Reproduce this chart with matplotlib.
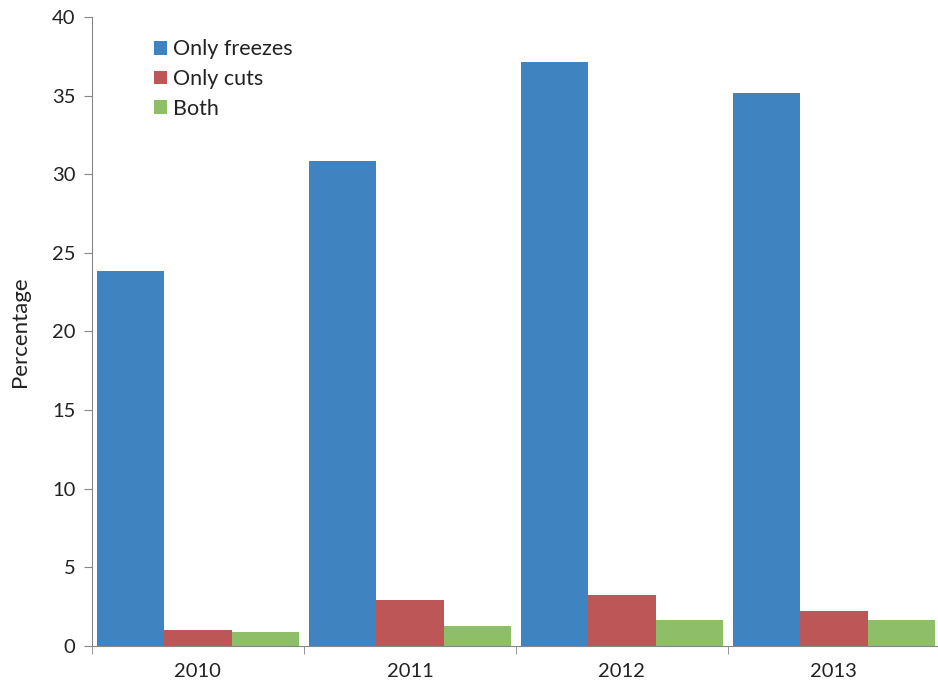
import matplotlib
matplotlib.use("Agg")
import matplotlib.pyplot as plt
import numpy as np

plt.rcParams['font.family'] = ['Lato', 'DejaVu Sans']

years = ['2010', '2011', '2012', '2013']
only_freezes = [23.85, 30.85, 37.15, 35.15]
only_cuts = [1.0, 2.9, 3.25, 2.25]
both = [0.9, 1.25, 1.65, 1.65]
series_names = ['Only freezes', 'Only cuts', 'Both']
colors = ['#3F84C1', '#BD5757', '#8EBE67']

fig = plt.figure(figsize=(9.38, 6.87), dpi=100)
ax = fig.add_axes([0.098, 0.0597, 0.904, 0.9156])

x = np.arange(len(years))
w = 0.318
for i, (vals, name, c) in enumerate(zip([only_freezes, only_cuts, both], series_names, colors)):
    ax.bar(x + (i - 1) * w, vals, width=w, color=c, label=name, edgecolor='none')

ax.set_xlim(-0.5, len(years) - 0.5)
ax.set_ylim(0, 40)
ax.set_yticks(range(0, 41, 5))
ax.set_xticks(x)
ax.set_xticklabels(years)
ax.set_xticks(np.arange(-0.5, len(years), 1), minor=True)
ax.tick_params(axis='x', which='major', length=0, pad=12, labelsize=14.5, colors='#222222')
ax.tick_params(axis='x', which='minor', length=6, color='#868686', direction='out')
ax.tick_params(axis='y', length=6, color='#868686', labelsize=14.5, labelcolor='#222222', pad=6)
for s in ['top', 'right']:
    ax.spines[s].set_visible(False)
for s in ['left', 'bottom']:
    ax.spines[s].set_color('#868686')
ax.set_ylabel('Percentage', fontsize=16, color='#222222', labelpad=16)

leg = ax.legend(loc='upper left', bbox_to_anchor=(0.05, 0.995), frameon=False, fontsize=15.5,
                handlelength=0.6, handleheight=0.6, handletextpad=0.3, labelspacing=0.45,
                labelcolor='#222222')

fig.savefig('out.png', dpi=100)
